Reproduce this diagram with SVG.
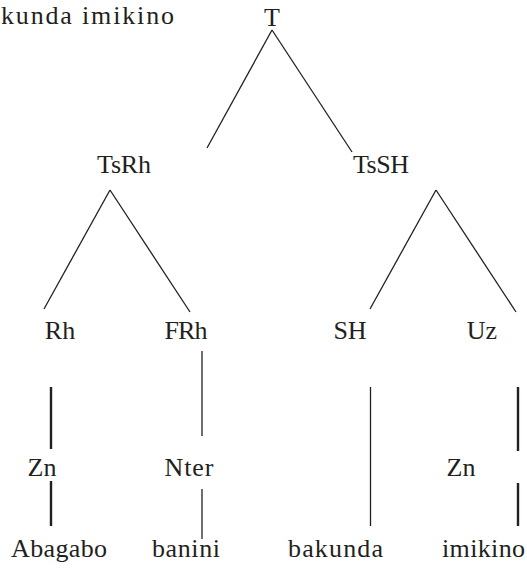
<svg xmlns="http://www.w3.org/2000/svg" width="527" height="570" viewBox="0 0 527 570">
  <style>
    .lbl { font-family: "Liberation Serif", "Times New Roman", serif; font-size: 26px; fill: #231f20; text-anchor: middle; }
    .edge { stroke: #231f20; stroke-width: 1.3; fill: none; stroke-linecap: butt; }
    .edge.bold { stroke-width: 2.4; }
  </style>
  <rect width="527" height="570" fill="#ffffff"/>

  <!-- sentence caption at the top left -->
  <text id="caption" class="lbl" x="1" y="24" style="text-anchor:start" textLength="173" lengthAdjust="spacing">kunda imikino</text>

  <!-- tree branches -->
  <g id="connectors">
    <line class="edge" x1="272" y1="30" x2="207" y2="148"/>
    <line class="edge" x1="272" y1="30" x2="352" y2="152"/>
    <line class="edge" x1="110" y1="190" x2="44" y2="309"/>
    <line class="edge" x1="110" y1="190" x2="190" y2="312"/>
    <line class="edge" x1="436" y1="190" x2="370" y2="309"/>
    <line class="edge" x1="436" y1="190" x2="516" y2="312"/>
    <line class="edge bold" x1="51" y1="387" x2="51" y2="449"/>
    <line class="edge bold" x1="51" y1="481" x2="51" y2="526"/>
    <line class="edge" x1="202" y1="351" x2="202" y2="436"/>
    <line class="edge" x1="202" y1="489" x2="202" y2="539"/>
    <line class="edge" x1="370.5" y1="387" x2="370.5" y2="526"/>
    <line class="edge bold" x1="518" y1="387" x2="518" y2="451"/>
    <line class="edge bold" x1="518" y1="483" x2="518" y2="526"/>
  </g>

  <!-- nodes -->
  <g id="n-T"><text class="lbl" x="272" y="26">T</text></g>
  <g id="n-TsRh"><text class="lbl" x="124" y="173" textLength="54" lengthAdjust="spacing">TsRh</text></g>
  <g id="n-TsSH"><text class="lbl" x="381" y="173" textLength="56" lengthAdjust="spacing">TsSH</text></g>
  <g id="n-Rh"><text class="lbl" x="60" y="339">Rh</text></g>
  <g id="n-FRh"><text class="lbl" x="186" y="339" textLength="43" lengthAdjust="spacing">FRh</text></g>
  <g id="n-SH"><text class="lbl" x="350" y="339">SH</text></g>
  <g id="n-Uz"><text class="lbl" x="482" y="339">Uz</text></g>
  <g id="n-Zn1"><text class="lbl" x="42" y="476">Zn</text></g>
  <g id="n-Nter"><text class="lbl" x="189" y="476" textLength="49" lengthAdjust="spacing">Nter</text></g>
  <g id="n-Zn2"><text class="lbl" x="461" y="476">Zn</text></g>
  <g id="n-Abagabo"><text class="lbl" x="59" y="557" textLength="96" lengthAdjust="spacing">Abagabo</text></g>
  <g id="n-banini"><text class="lbl" x="186" y="557" textLength="68" lengthAdjust="spacing">banini</text></g>
  <g id="n-bakunda"><text class="lbl" x="335.5" y="557" textLength="95" lengthAdjust="spacing">bakunda</text></g>
  <g id="n-imikino"><text class="lbl" x="483.5" y="557" textLength="83" lengthAdjust="spacing">imikino</text></g>
</svg>
